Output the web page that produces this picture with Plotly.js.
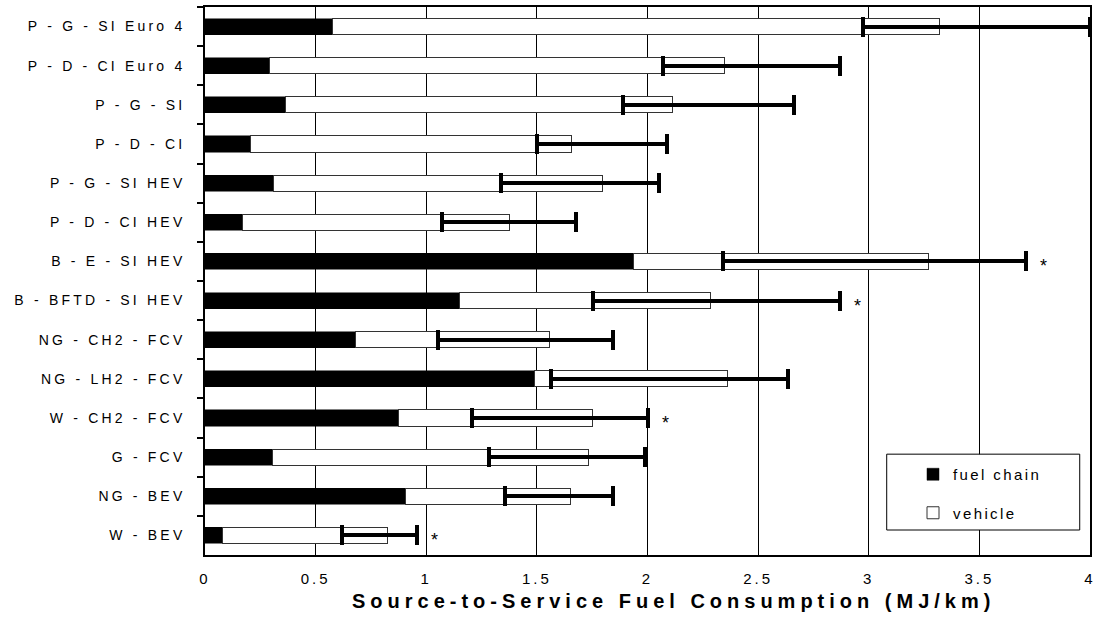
<!DOCTYPE html>
<html>
<head>
<meta charset="utf-8">
<script src="https://cdn.plot.ly/plotly-3.0.1.min.js"></script>
<style>
  html, body { margin: 0; padding: 0; background: #fff; }
  #chart { width: 1096px; height: 619px; }
  .ytick text { letter-spacing: 3.2px; }
  .xtick text { letter-spacing: 3px; }
  .legendtext { letter-spacing: 2.4px; }
  .annotation-text { letter-spacing: 5px; }
</style>
</head>
<body>
<div id="chart"></div>
<script>
const categories = [
  "P - G - SI Euro 4", "P - D - CI Euro 4", "P - G - SI", "P - D - CI",
  "P - G - SI HEV", "P - D - CI HEV", "B - E - SI HEV", "B - BFTD - SI HEV",
  "NG - CH2 - FCV", "NG - LH2 - FCV", "W - CH2 - FCV", "G - FCV",
  "NG - BEV", "W - BEV"
];
const fuelChain = [0.575, 0.29, 0.365, 0.205, 0.31, 0.17, 1.935, 1.15, 0.68, 1.49, 0.875, 0.305, 0.905, 0.08];
const vehicle   = [2.745, 2.06, 1.75, 1.45, 1.485, 1.205, 1.335, 1.135, 0.875, 0.87, 0.875, 1.43, 0.745, 0.745];
const rangeLow  = [2.975, 2.07, 1.89, 1.50, 1.34, 1.07, 2.34, 1.755, 1.055, 1.565, 1.205, 1.285, 1.355, 0.62];
const rangeHigh = [4.0, 2.87, 2.66, 2.09, 2.05, 1.675, 3.71, 2.87, 1.845, 2.635, 2.0, 1.99, 1.845, 0.96];
const starred   = [false, false, false, false, false, false, true, true, false, false, true, false, false, true];
const xTitle = "Source-to-Service Fuel Consumption (MJ/km)";

const totals = fuelChain.map((f, i) => f + vehicle[i]);
const errPlus = rangeHigh.map((h, i) => Math.max(0, h - totals[i]));
const errMinus = rangeLow.map((l, i) => Math.max(0, totals[i] - l));

const font = "Liberation Sans, Arial, sans-serif";

const traces = [
  {
    type: "bar", orientation: "h", name: "fuel chain",
    y: categories, x: fuelChain,
    marker: { color: "#000000", line: { color: "#000000", width: 0.5 } },
    legendgroup: "a", hoverinfo: "x+y+name"
  },
  {
    type: "bar", orientation: "h", name: "vehicle",
    y: categories, x: vehicle,
    marker: { color: "#ffffff", line: { color: "#333333", width: 1 } },
    error_x: { type: "data", symmetric: false, array: errPlus, arrayminus: errMinus,
               color: "#000000", thickness: 4, width: 10 },
    legendgroup: "b", hoverinfo: "x+y+name"
  }
];

const annotations = [];
categories.forEach((c, i) => {
  if (starred[i]) {
    annotations.push({
      x: rangeHigh[i], y: c, xref: "x", yref: "y", text: "*", showarrow: false,
      xanchor: "left", xshift: 12, yshift: -5,
      font: { family: font, size: 18, color: "#000" }
    });
  }
});
annotations.push({
  xref: "paper", yref: "paper", x: 0.529, y: -0.084, xanchor: "center", yanchor: "middle",
  text: "<b>" + xTitle + "</b>", showarrow: false,
  font: { family: font, size: 20, color: "#000", weight: "bold" }
});

const layout = {
  width: 1096, height: 619,
  margin: { l: 205, r: 6, t: 7, b: 64 },
  paper_bgcolor: "#ffffff", plot_bgcolor: "#ffffff",
  barmode: "stack", bargap: 0.59,
  font: { family: font, color: "#000", size: 13 },
  showlegend: true,
  legend: {
    x: 0.80, y: 0.177, xanchor: "left", yanchor: "top",
    bgcolor: "rgba(0,0,0,0)", borderwidth: 0,
    traceorder: "grouped", tracegroupgap: 16,
    font: { family: font, size: 15, color: "#000" },
    itemwidth: 30
  },
  shapes: [{
    type: "rect", xref: "paper", yref: "paper",
    x0: 0.7703, x1: 0.9884, y0: 0.0456, y1: 0.184,
    line: { color: "#000", width: 1 }, fillcolor: "#ffffff", layer: "above"
  }],
  xaxis: {
    range: [0, 4], dtick: 0.5, tick0: 0,
    showgrid: true, gridcolor: "#000", gridwidth: 1,
    zeroline: false, showline: true, linecolor: "#000", linewidth: 1.5, mirror: true,
    ticks: "", tickfont: { family: font, size: 15, color: "#000" },
    ticklabelstandoff: 9, fixedrange: true
  },
  yaxis: {
    type: "category", autorange: "reversed",
    showline: true, linecolor: "#000", linewidth: 1.5, mirror: true,
    ticks: "outside", tickson: "boundaries", ticklen: 6, tickcolor: "#000", tickwidth: 1.5,
    showgrid: false, tickfont: { family: font, size: 14, color: "#000" },
    ticklabelstandoff: 15, fixedrange: true
  },
  annotations: annotations
};

Plotly.newPlot("chart", traces, layout, { displayModeBar: false });
</script>
</body>
</html>
